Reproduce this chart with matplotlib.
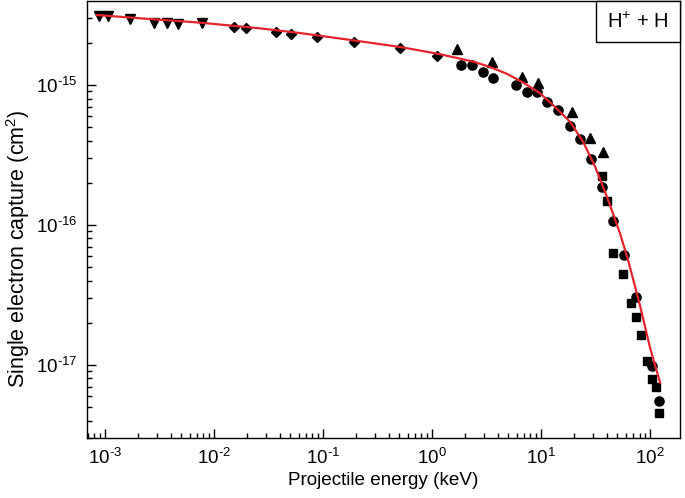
import matplotlib
matplotlib.use("Agg")
import matplotlib.pyplot as plt
import numpy as np
from matplotlib.patches import Rectangle
from matplotlib.ticker import FixedLocator, FuncFormatter, NullFormatter

plt.rcParams['font.family'] = ['Liberation Sans', 'DejaVu Sans']
plt.rcParams['mathtext.default'] = 'regular'
plt.rcParams['axes.unicode_minus'] = False

# --- data (keV, cm^2) ---
tri_down_x = [8.9e-4, 1.06e-3, 1.69e-3, 2.83e-3, 3.7e-3, 4.7e-3, 7.8e-3]
tri_down_y = [3.11e-15, 3.11e-15, 2.96e-15, 2.79e-15, 2.79e-15, 2.73e-15, 2.76e-15]

diam_x = [0.01524, 0.01954, 0.0371, 0.0512, 0.0881, 0.192, 0.508, 1.10]
diam_y = [2.61e-15, 2.54e-15, 2.38e-15, 2.32e-15, 2.21e-15, 2.04e-15, 1.83e-15, 1.62e-15]

tri_up_x = [1.71, 3.53, 6.73, 9.33, 19.05, 28.4, 37.3]
tri_up_y = [1.81e-15, 1.47e-15, 1.135e-15, 1.03e-15, 6.44e-16, 4.16e-16, 3.34e-16]

circ_x = [1.85, 2.34, 2.96, 3.61, 5.86, 7.39, 9.25, 11.4, 14.4, 18.3, 22.8, 28.8,
          36.5, 46.0, 57.7, 74.5, 103.7, 121.0]
circ_y = [1.39e-15, 1.39e-15, 1.245e-15, 1.116e-15, 1.0e-15, 8.87e-16, 8.87e-16,
          7.60e-16, 6.59e-16, 5.12e-16, 4.09e-16, 2.94e-16, 1.86e-16, 1.06e-16,
          6.1e-17, 3.03e-17, 9.84e-18, 5.47e-18]

sq_x = [36.1, 40.1, 46.0, 56.9, 67.0, 74.5, 82.6, 94.4, 105.0, 113.5, 121.7]
sq_y = [2.24e-16, 1.48e-16, 6.28e-17, 4.45e-17, 2.76e-17, 2.21e-17, 1.64e-17,
        1.06e-17, 7.94e-18, 6.93e-18, 4.52e-18]

fit_x = [8.44e-4, 2.59e-3, 7.44e-3, 0.0264, 0.0615, 0.177, 0.508, 1.18, 2.38, 3.40,
         4.88, 6.84, 9.79, 13.4, 18.4, 24.3, 31.3, 41.2, 53.1, 62.8, 80.9, 100.0, 123.6]
fit_y = [3.16e-15, 2.96e-15, 2.79e-15, 2.54e-15, 2.35e-15, 2.10e-15, 1.87e-15,
         1.66e-15, 1.47e-15, 1.345e-15, 1.20e-15, 1.042e-15, 8.72e-16, 6.97e-16,
         5.47e-16, 3.92e-16, 2.61e-16, 1.51e-16, 8.63e-17, 5.62e-17, 2.64e-17,
         1.32e-17, 7.43e-18]

x_major = [1e-3, 1e-2, 1e-1, 1e0, 1e1, 1e2]
y_major = [1e-17, 1e-16, 1e-15]

xlim = (6.9e-4, 188)
ylim = (3.0e-18, 3.95e-15)


def pow_label(v, pos):
    e = int(round(np.log10(v)))
    s = str(e).replace('-', '\u2010')
    return '10$^{%s}$' % s


fig = plt.figure(figsize=(6.85, 4.98), dpi=100)
ax = fig.add_axes([0.1275, 0.1205, 0.8652, 0.8765])

ax.plot(fit_x, fit_y, color='#e3242b', lw=1.6, zorder=3)
ax.plot(tri_down_x, tri_down_y, 'v', color='black', ms=6.8, ls='none', zorder=2)
ax.plot(diam_x, diam_y, 'D', color='black', ms=5.3, ls='none', zorder=2)
ax.plot(tri_up_x, tri_up_y, '^', color='black', ms=6.8, ls='none', zorder=2)
ax.plot(circ_x, circ_y, 'o', color='black', ms=6.6, ls='none', zorder=2)
ax.plot(sq_x, sq_y, 's', color='black', ms=5.5, ls='none', zorder=2)

ax.set_xscale('log')
ax.set_yscale('log')
ax.set_xlim(*xlim)
ax.set_ylim(*ylim)

x_minor = [m * d for d in [1e-4, 1e-3, 1e-2, 1e-1, 1e0, 1e1, 1e2]
           for m in range(2, 10) if xlim[0] <= m * d <= xlim[1]]
y_minor = [m * d for d in [1e-18, 1e-17, 1e-16, 1e-15]
           for m in range(2, 10) if ylim[0] <= m * d <= ylim[1]]

ax.xaxis.set_major_locator(FixedLocator(x_major))
ax.xaxis.set_minor_locator(FixedLocator(x_minor))
ax.yaxis.set_major_locator(FixedLocator(y_major))
ax.yaxis.set_minor_locator(FixedLocator(y_minor))
ax.xaxis.set_major_formatter(FuncFormatter(pow_label))
ax.yaxis.set_major_formatter(FuncFormatter(pow_label))
ax.xaxis.set_minor_formatter(NullFormatter())
ax.yaxis.set_minor_formatter(NullFormatter())

ax.tick_params(which='both', direction='in', top=False, right=False, width=1.0,
               labelsize=13.5, pad=7)
ax.tick_params(which='major', length=6.5)
ax.tick_params(which='minor', length=3.3)
for s in ax.spines.values():
    s.set_linewidth(1.0)

ax.set_xlabel('Projectile energy (keV)', fontsize=13.6, labelpad=3)
ax.set_ylabel('Single electron capture (cm$^2$)', fontsize=15.5)
ax.yaxis.set_label_coords(-0.094, 0.433)

bw, bh = 0.1417, 0.0928
ax.add_patch(Rectangle((1 - bw, 1 - bh), bw, bh, transform=ax.transAxes,
                       facecolor='white', edgecolor='black', lw=1.0, zorder=5,
                       clip_on=False))
ax.text(1 - bw / 2, 1 - bh / 2, 'H$^{+}$ + H', transform=ax.transAxes,
        ha='center', va='center', fontsize=14.5, zorder=6)

fig.savefig('out.png', dpi=100)
